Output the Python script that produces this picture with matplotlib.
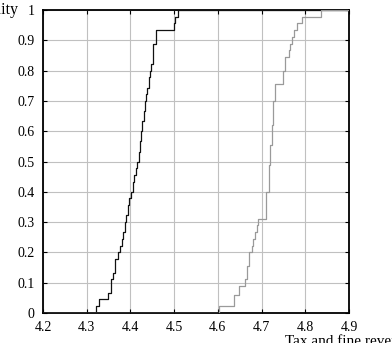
import matplotlib
matplotlib.use('Agg')
import matplotlib.pyplot as plt
import numpy as np

# step positions and ECDF levels
black_x = [4.322, 4.328, 4.349, 4.356, 4.360, 4.364, 4.372, 4.376, 4.381, 4.384,
           4.387, 4.390, 4.394, 4.397, 4.401, 4.405, 4.409, 4.412, 4.416, 4.419,
           4.422, 4.424, 4.427, 4.430, 4.433, 4.436, 4.439, 4.442, 4.445, 4.447,
           4.451, 4.459, 4.499, 4.503, 4.508]
black_y = [0.022, 0.045, 0.067, 0.111, 0.133, 0.178, 0.200, 0.222, 0.244, 0.267,
           0.300, 0.322, 0.356, 0.378, 0.400, 0.433, 0.456, 0.478, 0.500, 0.533,
           0.567, 0.600, 0.633, 0.667, 0.700, 0.722, 0.744, 0.778, 0.800, 0.822,
           0.889, 0.933, 0.956, 0.978, 1.000]

gray_x = [4.603, 4.638, 4.649, 4.661, 4.666, 4.672, 4.678, 4.681, 4.685, 4.690,
          4.692, 4.710, 4.716, 4.719, 4.723, 4.727, 4.731, 4.749, 4.754, 4.762,
          4.765, 4.769, 4.774, 4.780, 4.793, 4.836]
gray_y = [0.022, 0.059, 0.089, 0.111, 0.156, 0.200, 0.222, 0.244, 0.267, 0.289,
          0.311, 0.400, 0.489, 0.556, 0.622, 0.700, 0.756, 0.800, 0.844, 0.867,
          0.889, 0.911, 0.933, 0.956, 0.978, 1.000]

x_ticks = [4.2, 4.3, 4.4, 4.5, 4.6, 4.7, 4.8, 4.9]
y_ticks = [0, 0.1, 0.2, 0.3, 0.4, 0.5, 0.6, 0.7, 0.8, 0.9, 1]
y_labels = ['0', '0.1', '0.2', '0.3', '0.4', '0.5', '0.6', '0.7', '0.8', '0.9', '1']

plt.rcParams['font.family'] = ['Liberation Serif', 'DejaVu Serif']

fig = plt.figure(figsize=(3.92, 3.43), dpi=100)
ax = fig.add_axes([43 / 392, 1 - 313 / 343, 306 / 392, 303 / 343])

ax.step([4.2] + black_x + [4.9], [0] + black_y + [1], where='post',
        color='#111111', lw=0.9, zorder=3)
ax.step([4.2] + gray_x + [4.9], [0] + gray_y + [1], where='post',
        color='#9a9a9a', lw=0.9, zorder=3)

ax.set_xlim(4.2, 4.9)
ax.set_ylim(0, 1)
ax.set_xticks(x_ticks)
ax.set_xticklabels([str(t) for t in x_ticks])
ax.set_yticks(y_ticks)
ax.set_yticklabels(y_labels)
ax.grid(True, color='#c0c0c0', lw=0.8)
ax.tick_params(direction='in', length=3, width=0.8, labelsize=10, pad=6,
               top=True, right=True, colors='black')
for s in ax.spines.values():
    s.set_linewidth(1.3)

# axis labels sit partly outside the canvas, as in the source image
fig.text(19 / 392, 1 - 10 / 343, 'Probability', ha='right', va='center', fontsize=11.5)
fig.text(285 / 392, 1 - 335 / 343, 'Tax and fine revenue', ha='left', va='top', fontsize=11)

fig.savefig('out.png', dpi=100)
